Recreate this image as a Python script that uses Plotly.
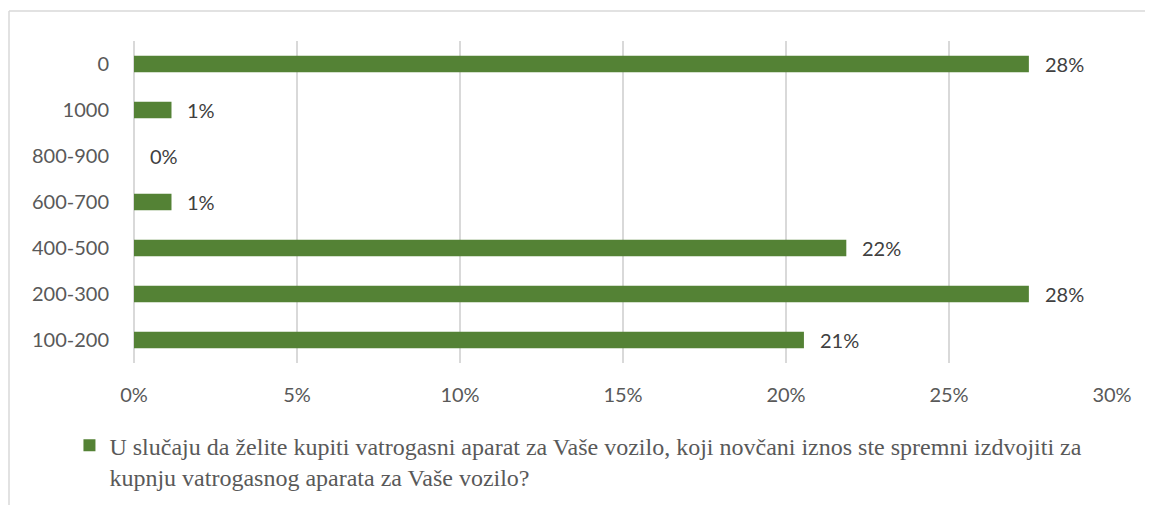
import plotly.graph_objects as go

categories = ["100-200", "200-300", "400-500", "600-700", "800-900", "1000", "0"]
values = [20.55, 27.45, 21.85, 1.15, 0.0, 1.15, 27.45]
labels = ["21%", "28%", "22%", "1%", "0%", "1%", "28%"]
series_name = ("U slučaju da želite kupiti vatrogasni aparat za Vaše vozilo, koji novčani iznos ste spremni izdvojiti za"
               "<br>kupnju vatrogasnog aparata za Vaše vozilo?")

green = "#548235"
grid = "#d9d9d9"

# page body adds an 8px offset, so the figure is laid out in that shifted frame
L, T, W, H = 126, 33, 978, 322

fig = go.Figure()
fig.add_trace(go.Bar(
    y=categories, x=values, orientation="h", name=series_name,
    marker=dict(color=green, line=dict(width=0)), width=0.36,
    showlegend=True,
))

# value labels sit a little to the right of each bar end
# (category axis: annotation y is the category's serial index)
for i, (v, t) in enumerate(zip(values, labels)):
    fig.add_annotation(x=v, y=i, text=t, showarrow=False, xanchor="left",
                       xshift=14, font=dict(family="Lato", size=20, color="#404040"))

# chart frame: only the top and left edges are visible in the crop
fx0, fy1 = (1 - L) / W, (T + H - 3) / H
fig.add_shape(type="line", xref="paper", yref="paper",
              x0=fx0, x1=(1300 - L) / W, y0=fy1, y1=fy1,
              line=dict(color=grid, width=1.5), layer="below")
fig.add_shape(type="line", xref="paper", yref="paper",
              x0=fx0, x1=fx0, y0=(T + H - 700) / H, y1=fy1,
              line=dict(color=grid, width=1.5), layer="below")

fig.update_layout(
    width=1145, height=497,
    margin=dict(l=L, r=1145 - L - W, t=T, b=497 - T - H, autoexpand=False),
    paper_bgcolor="white", plot_bgcolor="white",
    font=dict(family="Lato", size=20, color="#595959"),
    xaxis=dict(range=[0, 30], dtick=5, ticksuffix="%", showgrid=True,
               gridcolor=grid, gridwidth=1.5, zeroline=True, zerolinecolor=grid,
               zerolinewidth=1.5, ticklabelstandoff=18, fixedrange=True),
    yaxis=dict(type="category", categoryorder="array", categoryarray=categories,
               range=[-0.5, len(categories) - 0.5],
               showgrid=False, ticklabelstandoff=24, fixedrange=True),
    legend=dict(orientation="h", x=-0.066, xanchor="left", y=-0.187, yanchor="top",
                valign="top",
                font=dict(family="Liberation Serif", size=24, color="#595959"),
                itemwidth=30, itemsizing="constant"),
)

fig.write_html("out.html")
